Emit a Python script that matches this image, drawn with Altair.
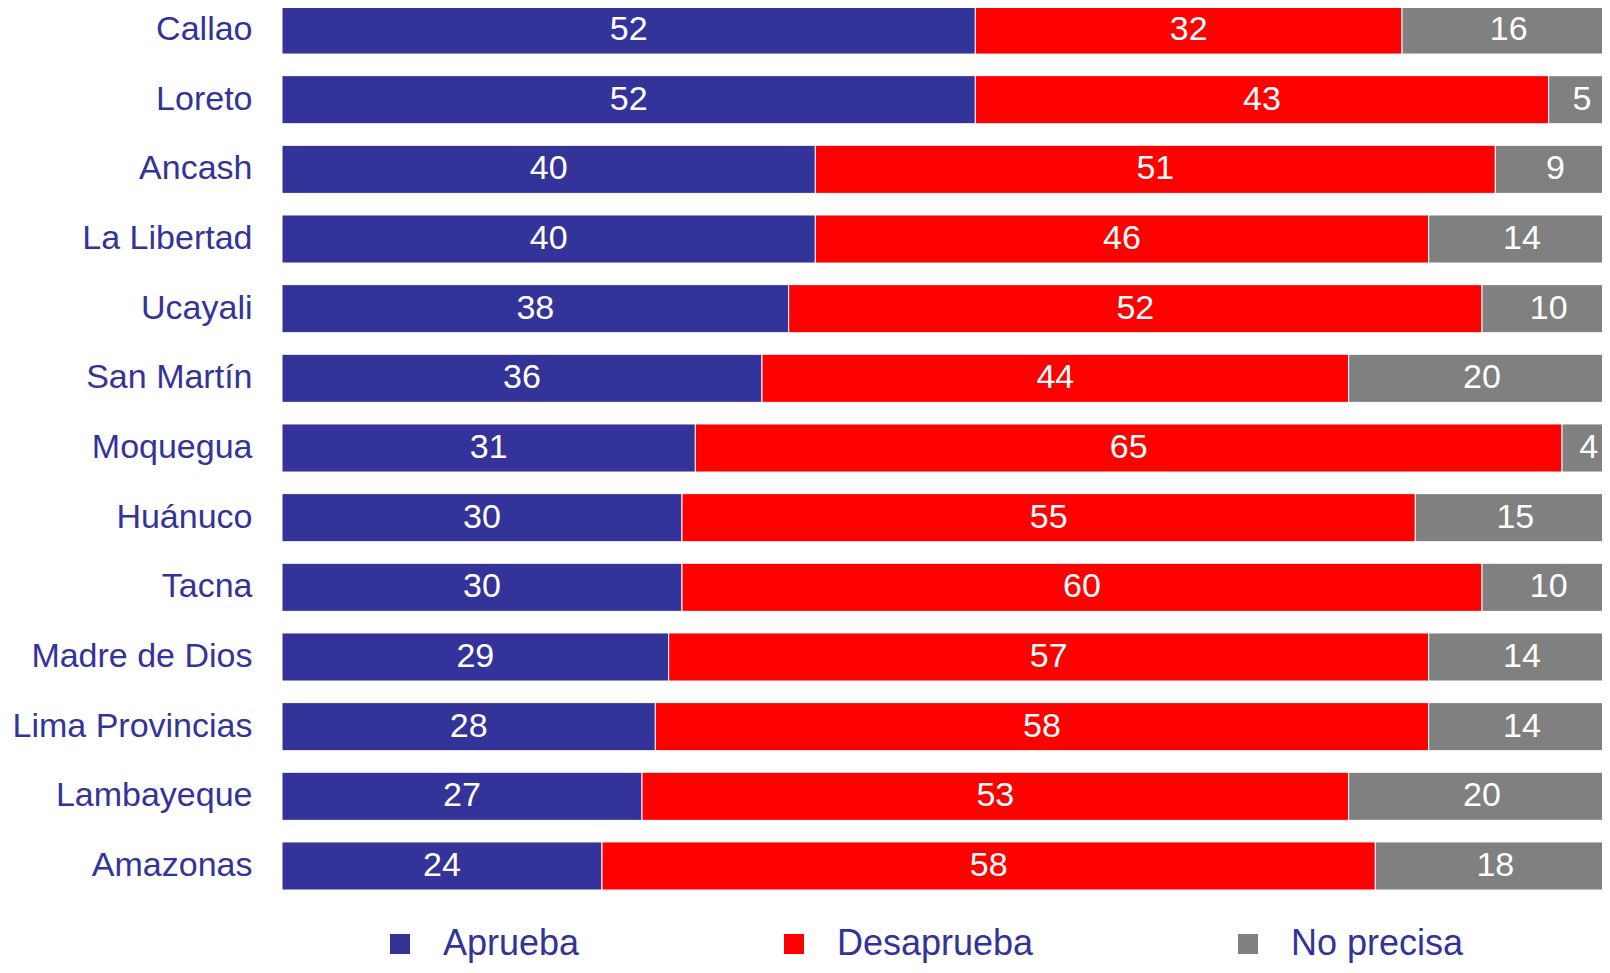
import altair as alt
import pandas as pd

regions = ["Callao", "Loreto", "Ancash", "La Libertad", "Ucayali", "San Martín",
           "Moquegua", "Huánuco", "Tacna", "Madre de Dios", "Lima Provincias",
           "Lambayeque", "Amazonas"]
aprueba = [52, 52, 40, 40, 38, 36, 31, 30, 30, 29, 28, 27, 24]
desaprueba = [32, 43, 51, 46, 52, 44, 65, 55, 60, 57, 58, 53, 58]
no_precisa = [16, 5, 9, 14, 10, 20, 4, 15, 10, 14, 14, 20, 18]
series = ["Aprueba", "Desaprueba", "No precisa"]
colors = ["#333399", "#FF0000", "#808080"]

rows = []
for i, r in enumerate(regions):
    for k, (s, vals) in enumerate(zip(series, [aprueba, desaprueba, no_precisa])):
        rows.append({"region": r, "serie": s, "orden": k, "valor": vals[i]})
df = pd.DataFrame(rows)

FONT = "Liberation Sans"
TXT = "#333399"

base = alt.Chart(df).transform_stack(
    stack="valor", groupby=["region"], as_=["x0", "x1"], sort=[alt.SortField("orden")]
).transform_calculate(mid="(datum.x0 + datum.x1) / 2")

xscale = alt.Scale(domain=[0, 99], nice=False, zero=True)
y = alt.Y(
    "region:N", sort=regions, title=None,
    scale=alt.Scale(paddingInner=0.31, paddingOuter=0),
    axis=alt.Axis(labelFont=FONT, labelFontSize=34, labelColor=TXT, labelPadding=30,
                  ticks=False, domain=False, labelLimit=400),
)

bars = base.mark_bar(stroke="white", strokeWidth=1, clip=True).encode(
    x=alt.X("x0:Q", scale=xscale, axis=None),
    x2="x1:Q",
    y=y,
    color=alt.Color(
        "serie:N",
        scale=alt.Scale(domain=series, range=colors),
        legend=alt.Legend(
            title=None, orient="none", legendX=100, legendY=920, direction="horizontal",
            symbolType="square", symbolSize=400, symbolStrokeWidth=0,
            labelFont=FONT, labelFontSize=36, labelColor=TXT, labelOffset=25,
            labelLimit=400, columnPadding=196, padding=0,
        ),
    ),
)

text = base.mark_text(color="white", fontSize=34, font=FONT).encode(
    x=alt.X("mid:Q", scale=xscale, axis=None),
    y=y,
    text="valor:Q",
)

chart = alt.layer(bars, text).properties(
    width=1320, height=884,
    autosize=alt.AutoSizeParams(type="none"),
    padding={"left": 274, "top": -2, "right": 0, "bottom": 75},
).configure_view(stroke=None)

chart.save("out.html", embed_options={"renderer": "svg", "actions": False})
